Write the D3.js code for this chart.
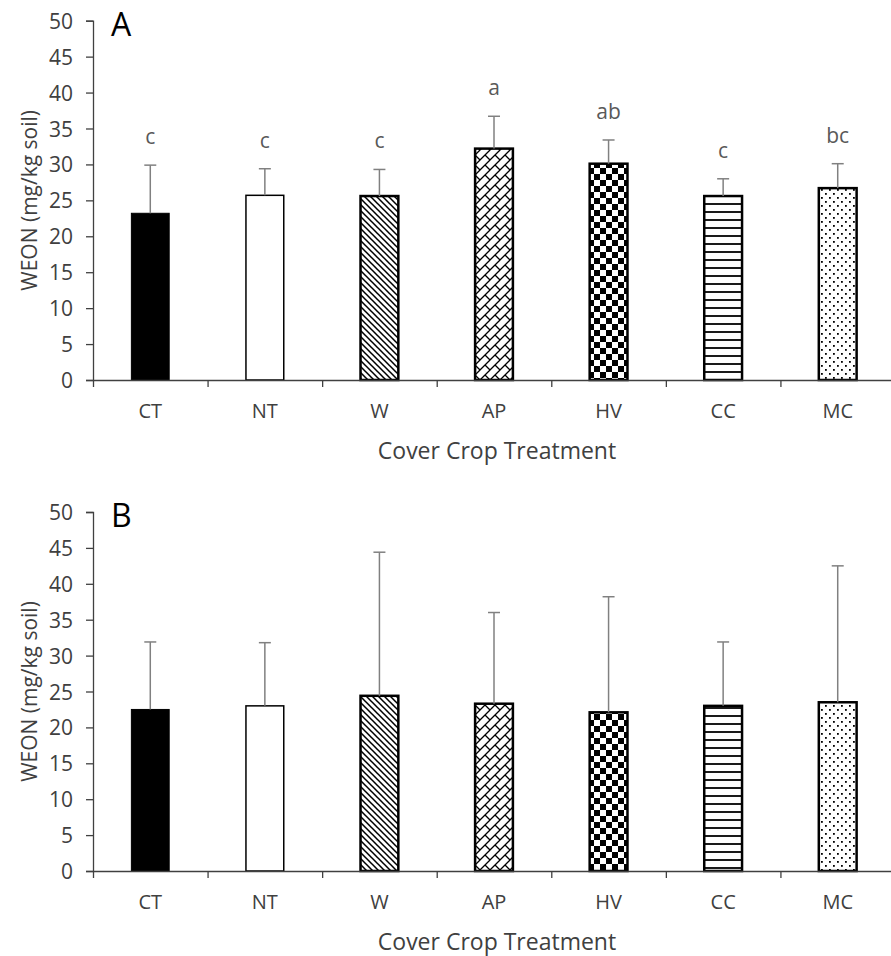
<!DOCTYPE html>
<html>
<head>
<meta charset="utf-8">
<script src="https://cdn.jsdelivr.net/npm/d3@7"></script>
<style>
  body { margin: 0; background: #fff; }
  text { font-family: "Open Sans", sans-serif; }
</style>
</head>
<body>
<div id="app"></div>
<script>
const categories = ['CT', 'NT', 'W', 'AP', 'HV', 'CC', 'MC'];
const fills = ['solid', 'none', 'dnDiag', 'brick', 'checker', 'hLines', 'dots'];

// panel A
const meanA = [23.2, 25.7, 25.6, 32.2, 30.1, 25.6, 26.7];
const errA = [6.7, 3.7, 3.7, 4.5, 3.3, 2.4, 3.4];
const lettersA = ['c', 'c', 'c', 'a', 'ab', 'c', 'bc'];

// panel B
const meanB = [22.5, 23.0, 24.4, 23.3, 22.1, 23.0, 23.5];
const errB = [9.4, 8.8, 20.0, 12.7, 16.1, 8.9, 19.0];
const lettersB = ['', '', '', '', '', '', ''];

const yTicks = [0, 5, 10, 15, 20, 25, 30, 35, 40, 45, 50];
const xTitle = 'Cover Crop Treatment';
const yTitle = 'WEON (mg/kg soil)';

const W = 891, H = 956;
const left = 93, right = 895;

const svg = d3.select('#app').append('svg')
  .attr('width', W)
  .attr('height', H);

// fill patterns (Excel-like)
const defs = svg.append('defs');

const pat = (id, w, h) =>
  defs.append('pattern')
    .attr('id', id)
    .attr('patternUnits', 'userSpaceOnUse')
    .attr('width', w)
    .attr('height', h);

let p = pat('dnDiag', 6, 6);
p.append('rect').attr('width', 6).attr('height', 6).attr('fill', '#fff');
p.append('path')
  .attr('d', 'M-1,-1 L7,7 M-1,5 L1,7 M5,-1 L7,1')
  .attr('stroke', '#000').attr('stroke-width', 1.5);

p = pat('brick', 10, 10);
p.append('rect').attr('width', 10).attr('height', 10).attr('fill', '#fff');
p.append('path')
  .attr('d', 'M-1,11 L11,-1 M-1,1 L1,-1 M9,11 L11,9 M5,5 L10,10')
  .attr('stroke', '#000').attr('stroke-width', 1.3);

p = pat('checker', 12, 12);
p.append('rect').attr('width', 12).attr('height', 12).attr('fill', '#fff');
p.append('rect').attr('width', 6).attr('height', 6).attr('fill', '#000');
p.append('rect').attr('x', 6).attr('y', 6).attr('width', 6).attr('height', 6).attr('fill', '#000');

p = pat('hLines', 8, 8);
p.append('rect').attr('width', 8).attr('height', 8).attr('fill', '#fff');
p.append('rect').attr('y', 3).attr('width', 8).attr('height', 2).attr('fill', '#1a1a1a');

p = pat('dots', 8, 8);
p.append('rect').attr('width', 8).attr('height', 8).attr('fill', '#fff');
p.append('rect').attr('x', 1).attr('y', 1).attr('width', 1.8).attr('height', 1.8).attr('fill', '#000');
p.append('rect').attr('x', 5).attr('y', 5).attr('width', 1.8).attr('height', 1.8).attr('fill', '#000');

const fillOf = f => f === 'solid' ? '#000' : f === 'none' ? '#fff' : `url(#${f})`;

const xScale = d3.scaleBand()
  .domain(categories)
  .range([left, right])
  .paddingInner(0.67)
  .paddingOuter(0.335);

const xEdges = d3.scaleLinear()
  .domain([0, categories.length])
  .range([left, right]);

function drawPanel(tag, means, errs, letters, top, bottom) {
  const g = svg.append('g');

  const yScale = d3.scaleLinear()
    .domain([0, 50])
    .range([bottom, top]);

  // y axis
  const yAxis = g.append('g')
    .attr('transform', `translate(${left},0)`)
    .call(d3.axisLeft(yScale).tickValues(yTicks).tickSize(7).tickPadding(13));
  yAxis.select('.domain').attr('stroke', '#404040').attr('stroke-width', 1.3);
  yAxis.selectAll('.tick line').attr('stroke', '#404040').attr('stroke-width', 1.3);
  yAxis.selectAll('.tick text')
    .attr('fill', '#404040')
    .attr('dy', '0.36em')
    .style('font-size', '21px')
    .style('font-family', '"Open Sans", sans-serif');

  // bars
  const data = categories.map((c, i) => ({ c, m: means[i], e: errs[i], l: letters[i], f: fills[i] }));

  g.selectAll('rect.bar')
    .data(data)
    .enter()
    .append('rect')
    .attr('class', 'bar')
    .attr('x', d => xScale(d.c))
    .attr('y', d => yScale(d.m))
    .attr('width', xScale.bandwidth())
    .attr('height', d => bottom - yScale(d.m))
    .attr('fill', d => fillOf(d.f))
    .attr('stroke', '#000')
    .attr('stroke-width', d => d.f === 'none' ? 1.5 : (d.f === 'solid' ? 1 : 2.5));

  // error bars (upper only)
  const cx = d => xScale(d.c) + xScale.bandwidth() / 2;
  g.selectAll('line.err')
    .data(data)
    .enter()
    .append('line')
    .attr('class', 'err')
    .attr('x1', cx).attr('x2', cx)
    .attr('y1', d => yScale(d.m))
    .attr('y2', d => yScale(d.m + d.e))
    .attr('stroke', '#808080')
    .attr('stroke-width', 1.5);

  g.selectAll('line.cap')
    .data(data)
    .enter()
    .append('line')
    .attr('class', 'cap')
    .attr('x1', d => cx(d) - 6).attr('x2', d => cx(d) + 6)
    .attr('y1', d => yScale(d.m + d.e))
    .attr('y2', d => yScale(d.m + d.e))
    .attr('stroke', '#808080')
    .attr('stroke-width', 1.5);

  // significance letters
  g.selectAll('text.letter')
    .data(data)
    .enter()
    .append('text')
    .attr('class', 'letter')
    .attr('x', cx)
    .attr('y', d => yScale(d.m + d.e) - 21)
    .attr('text-anchor', 'middle')
    .attr('fill', '#595959')
    .style('font-size', '21px')
    .text(d => d.l);

  // x axis: line + boundary ticks
  const xAxis = g.append('g')
    .attr('transform', `translate(0,${bottom})`)
    .call(d3.axisBottom(xEdges).ticks(categories.length).tickSize(7).tickFormat('').tickSizeOuter(0));
  xAxis.select('.domain').attr('stroke', '#404040').attr('stroke-width', 1.3);
  xAxis.selectAll('.tick line').attr('stroke', '#404040').attr('stroke-width', 1.3);

  g.selectAll('text.cat')
    .data(categories)
    .enter()
    .append('text')
    .attr('class', 'cat')
    .attr('x', d => xScale(d) + xScale.bandwidth() / 2)
    .attr('y', bottom + 38)
    .attr('text-anchor', 'middle')
    .attr('fill', '#404040')
    .style('font-size', '20px')
    .text(d => d);

  // titles
  g.append('text')
    .attr('x', 497)
    .attr('y', bottom + 79)
    .attr('text-anchor', 'middle')
    .attr('fill', '#404040')
    .style('font-size', '23px')
    .text(xTitle);

  g.append('text')
    .attr('transform', `translate(37,${(top + bottom) / 2}) rotate(-90)`)
    .attr('text-anchor', 'middle')
    .attr('fill', '#404040')
    .style('font-size', '21px')
    .text(yTitle);

  g.append('text')
    .attr('x', 111)
    .attr('y', top + 15)
    .attr('fill', '#000')
    .style('font-size', '32px')
    .text(tag);
}

drawPanel('A', meanA, errA, lettersA, 20.7, 380);
drawPanel('B', meanB, errB, lettersB, 512, 871);
</script>
</body>
</html>
